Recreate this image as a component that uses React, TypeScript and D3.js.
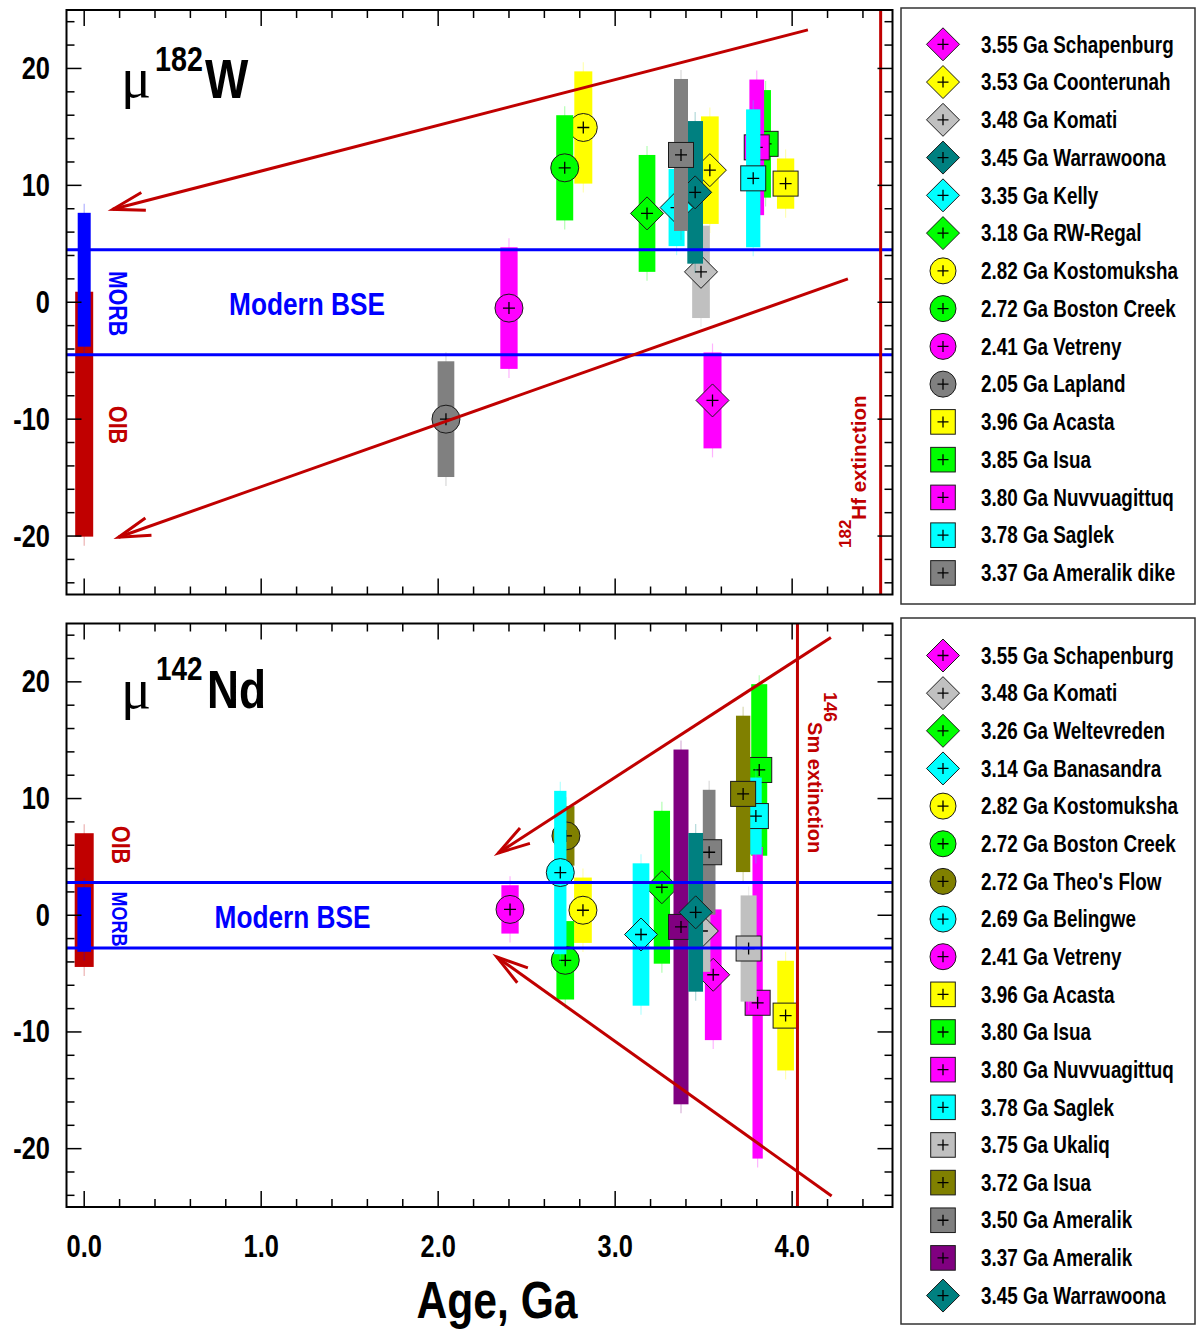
import React from "react";
import * as d3 from "d3";

// ---------- axes ----------
const AGE_DOMAIN = [-0.1, 4.567];
const MU_DOMAIN = [-25, 25];
const AGE_MAJOR = [0, 1, 2, 3, 4];
const AGE_LABELS = ["0.0", "1.0", "2.0", "3.0", "4.0"];
const MU_MAJOR = [-20, -10, 0, 10, 20];
const MU_LABELS = ["-20", "-10", "0", "10", "20"];

// ---------- mu182W panel ----------
const W_LABELS = [
  "3.55 Ga Schapenburg", "3.53 Ga Coonterunah", "3.48 Ga Komati", "3.45 Ga Warrawoona",
  "3.35 Ga Kelly", "3.18 Ga RW-Regal", "2.82 Ga Kostomuksha", "2.72 Ga Boston Creek",
  "2.41 Ga Vetreny", "2.05 Ga Lapland", "3.96 Ga Acasta", "3.85 Ga Isua",
  "3.80 Ga Nuvvuagittuq", "3.78 Ga Saglek", "3.37 Ga Ameralik dike",
];
const W_AGE = [3.55, 3.535, 3.485, 3.452, 3.347, 3.18, 2.82, 2.715, 2.40, 2.044, 3.963, 3.85, 3.80, 3.78, 3.372];
const W_MU = [-8.4, 11.3, 2.6, 9.4, 8.1, 7.6, 14.95, 11.5, -0.5, -10.0, 10.15, 13.55, 13.25, 10.6, 12.6];
const W_ERR = [4.1, 4.6, 3.95, 6.1, 3.3, 5.0, 4.8, 4.5, 5.2, 4.95, 2.15, 4.6, 5.8, 5.9, 6.5];
const W_SHAPE = ["diamond", "diamond", "diamond", "diamond", "diamond", "diamond", "circle", "circle", "circle", "circle", "square", "square", "square", "square", "square"];
const W_COLOR = ["#ff00ff", "#ffff00", "#c0c0c0", "#008080", "#00ffff", "#00ff00", "#ffff00", "#00ff00", "#ff00ff", "#808080", "#ffff00", "#00ff00", "#ff00ff", "#00ffff", "#808080"];
const W_BARW = [18, 17.7, 17.7, 15.7, 16, 16.7, 18, 17, 17.3, 16.7, 17.3, 10.7, 14.7, 14.3, 14];
const W_BSE = [-4.5, 4.5];
const W_MORB = [-3.8, 7.65];
const W_OIB = [-20.05, 0.9];
const W_ARROWS = [
  { from: [4.089, 23.3], to: [0.162, 7.95] },
  { from: [4.315, 2.0], to: [0.194, -20.1] },
];
const W_EXTINCTION = 4.5;

// ---------- mu142Nd panel ----------
const N_LABELS = [
  "3.55 Ga Schapenburg", "3.48 Ga Komati", "3.26 Ga Weltevreden", "3.14 Ga Banasandra",
  "2.82 Ga Kostomuksha", "2.72 Ga Boston Creek", "2.72 Ga Theo's Flow", "2.69 Ga Belingwe",
  "2.41 Ga Vetreny", "3.96 Ga Acasta", "3.80 Ga Isua", "3.80 Ga Nuvvuagittuq",
  "3.78 Ga Saglek", "3.75 Ga Ukaliq", "3.72 Ga Isua", "3.50 Ga Ameralik",
  "3.37 Ga Ameralik", "3.45 Ga Warrawoona",
];
const N_AGE = [3.554, 3.49, 3.264, 3.146, 2.818, 2.718, 2.722, 2.69, 2.406, 3.963, 3.814, 3.805, 3.795, 3.754, 3.723, 3.531, 3.372, 3.455];
const N_MU = [-5.1, -1.35, 2.4, -1.65, 0.43, -3.86, 6.8, 3.66, 0.5, -8.6, 12.45, -7.5, 8.5, -2.85, 10.4, 5.4, -1.0, 0.25];
const N_ERR = [5.6, 3.5, 6.55, 6.1, 2.8, 3.36, 2.55, 7.0, 2.07, 4.7, 7.35, 13.35, 3.3, 4.55, 6.7, 5.35, 15.2, 6.8];
const N_SHAPE = ["diamond", "diamond", "diamond", "diamond", "circle", "circle", "circle", "circle", "circle", "square", "square", "square", "square", "square", "square", "square", "square", "diamond"];
const N_COLOR = ["#ff00ff", "#c0c0c0", "#00ff00", "#00ffff", "#ffff00", "#00ff00", "#808000", "#00ffff", "#ff00ff", "#ffff00", "#00ff00", "#ff00ff", "#00ffff", "#c0c0c0", "#808000", "#808080", "#800080", "#008080"];
const N_BARW = [16.7, 17, 16.3, 16.7, 17.7, 17.7, 17, 12.3, 17.3, 16.7, 16, 10.3, 11.7, 16, 14.3, 12.7, 15, 14.7];
const N_BSE = [-2.8, 2.8];
const N_MORB = [-3.13, 2.4];
const N_OIB = [-4.43, 7.03];
const N_ARROWS = [
  { from: [4.219, 23.8], to: [2.34, 5.34] },
  { from: [4.223, -24.05], to: [2.331, -3.57] },
];
const N_EXTINCTION = 4.03;

// ---------- layout / style ----------
const X0 = 66.5, X1 = 892.5;
const TOP = { y0: 10, y1: 594.5 };
const BOT = { y0: 623.5, y1: 1207 };
const RED = "#c00000";
const BLUE = "#0000ff";
const FONT = "'Liberation Sans', Arial, Helvetica, sans-serif";
const NARROW = 0.82;
const PLOT_SIZE: Record<string, number> = { diamond: 16.5, circle: 14, square: 12.5 };
const LEG_SIZE: Record<string, number> = { diamond: 16.5, circle: 13, square: 12.3 };

const x = d3.scaleLinear().domain(AGE_DOMAIN).range([X0, X1]);

function NText(props: any) {
  const { x, y, size, anchor = "start", fill = "#000", rotate = 0, weight = "bold", children } = props;
  return (
    <text
      transform={`translate(${x},${y}) rotate(${rotate}) scale(${NARROW},1)`}
      fontSize={size}
      fontFamily={FONT}
      fontWeight={weight}
      textAnchor={anchor}
      fill={fill}
    >
      {children}
    </text>
  );
}

function Marker(props: any) {
  const { shape, cx, cy, fill, half, plus } = props;
  let el;
  if (shape === "diamond") {
    el = <path d={`M${cx},${cy - half}L${cx + half},${cy}L${cx},${cy + half}L${cx - half},${cy}Z`} fill={fill} stroke="#1a1a1a" strokeWidth={1} />;
  } else if (shape === "circle") {
    el = <circle cx={cx} cy={cy} r={half} fill={fill} stroke="#1a1a1a" strokeWidth={1} />;
  } else {
    el = <rect x={cx - half} y={cy - half} width={2 * half} height={2 * half} fill={fill} stroke="#1a1a1a" strokeWidth={1} />;
  }
  return (
    <g>
      {el}
      <path d={`M${cx - plus},${cy}H${cx + plus}M${cx},${cy - plus}V${cy + plus}`} stroke="#000" strokeWidth={1.3} />
    </g>
  );
}

function Arrow(props: any) {
  const { x1, y1, x2, y2 } = props;
  const a = Math.atan2(y1 - y2, x1 - x2);
  const L = 33, da = 0.28;
  const b1 = [x2 + L * Math.cos(a + da), y2 + L * Math.sin(a + da)];
  const b2 = [x2 + L * Math.cos(a - da), y2 + L * Math.sin(a - da)];
  return (
    <g stroke={RED} strokeWidth={3} fill="none" strokeLinecap="butt">
      <line x1={x1} y1={y1} x2={x2} y2={y2} />
      <path d={`M${b1[0]},${b1[1]}L${x2},${y2}L${b2[0]},${b2[1]}`} />
    </g>
  );
}

function RangeBar(props: any) {
  const { cx, lo, hi, w, color } = props;
  const ext = 9;
  return (
    <g>
      <line x1={cx} x2={cx} y1={hi - ext} y2={lo + ext} stroke={color} strokeOpacity={0.3} strokeWidth={1.2} />
      <rect x={cx - w / 2} y={hi} width={w} height={lo - hi} fill={color} />
    </g>
  );
}

function Axes(props: any) {
  const { y, box } = props;
  const minorX = d3.range(0, 4.5, 0.2).map((v) => +v.toFixed(2));
  const minorY = d3.range(-24, 25, 2);
  const ticks: any[] = [];
  minorX.forEach((v, i) => {
    const major = AGE_MAJOR.some((m) => Math.abs(m - v) < 1e-6);
    const len = major ? 16 : 8;
    const px = x(v);
    ticks.push(<line key={`xt${i}`} x1={px} x2={px} y1={box.y0} y2={box.y0 + len} />);
    ticks.push(<line key={`xb${i}`} x1={px} x2={px} y1={box.y1} y2={box.y1 - len} />);
  });
  minorY.forEach((v, i) => {
    const major = v % 10 === 0;
    const len = major ? 15 : 8;
    const py = y(v);
    ticks.push(<line key={`yl${i}`} x1={X0} x2={X0 + len} y1={py} y2={py} />);
    ticks.push(<line key={`yr${i}`} x1={X1} x2={X1 - len} y1={py} y2={py} />);
  });
  return (
    <g>
      <g stroke="#000" strokeWidth={1.5}>{ticks}</g>
      <rect x={X0} y={box.y0} width={X1 - X0} height={box.y1 - box.y0} fill="none" stroke="#000" strokeWidth={2} />
      {MU_MAJOR.map((v, i) => (
        <NText key={i} x={50} y={y(v) + 10.5} size={31} anchor="end">{MU_LABELS[i]}</NText>
      ))}
    </g>
  );
}

function Series(props: any) {
  const { y, ages, mus, errs, shapes, colors, widths } = props;
  return (
    <g>
      {ages.map((a: number, i: number) => (
        <g key={i}>
          <RangeBar cx={x(a)} hi={y(mus[i] + errs[i])} lo={y(mus[i] - errs[i])} w={widths[i]} color={colors[i]} />
          <Marker shape={shapes[i]} cx={x(a)} cy={y(mus[i])} fill={colors[i]} half={PLOT_SIZE[shapes[i]]} plus={6} />
        </g>
      ))}
    </g>
  );
}

function Legend(props: any) {
  const { box, labels, shapes, colors, start, step } = props;
  return (
    <g>
      <rect x={box.x} y={box.y} width={box.w} height={box.h} fill="#fff" stroke="#333" strokeWidth={1.5} />
      {labels.map((lab: string, i: number) => {
        const cy = start + i * step;
        return (
          <g key={i}>
            <Marker shape={shapes[i]} cx={943} cy={cy} fill={colors[i]} half={LEG_SIZE[shapes[i]]} plus={5.5} />
            <NText x={981} y={cy + 8.2} size={23}>{lab}</NText>
          </g>
        );
      })}
    </g>
  );
}

export default function App() {
  const yT = d3.scaleLinear().domain(MU_DOMAIN).range([TOP.y1, TOP.y0]);
  const yB = d3.scaleLinear().domain(MU_DOMAIN).range([BOT.y1, BOT.y0]);
  const x0 = x(0);

  return (
    <svg width={1196} height={1331} style={{ position: "absolute", left: 0, top: 0, background: "#fff" }} xmlns="http://www.w3.org/2000/svg">
      <rect x={0} y={0} width={1196} height={1331} fill="#fff" />

      {/* ===== top panel: mu182W ===== */}
      <g>
        <RangeBar cx={x0} hi={yT(W_OIB[1])} lo={yT(W_OIB[0])} w={18} color={RED} />
        <RangeBar cx={x0} hi={yT(W_MORB[1])} lo={yT(W_MORB[0])} w={13} color={BLUE} />
        <Series y={yT} ages={W_AGE} mus={W_MU} errs={W_ERR} shapes={W_SHAPE} colors={W_COLOR} widths={W_BARW} />
        {W_BSE.map((v, i) => (
          <line key={i} x1={X0} x2={X1} y1={yT(v)} y2={yT(v)} stroke={BLUE} strokeWidth={3} />
        ))}
        {W_ARROWS.map((a, i) => (
          <Arrow key={i} x1={x(a.from[0])} y1={yT(a.from[1])} x2={x(a.to[0])} y2={yT(a.to[1])} />
        ))}
        <line x1={x(W_EXTINCTION)} x2={x(W_EXTINCTION)} y1={TOP.y0} y2={TOP.y1} stroke={RED} strokeWidth={3} />
        <text transform={`translate(${x(W_EXTINCTION) - 14.5},548) rotate(-90)`} fontFamily={FONT} fontWeight="bold" fontSize={20.5} fill={RED}>
          <tspan fontSize={17} dy={-15}>182</tspan>
          <tspan dy={15}>Hf extinction</tspan>
        </text>
        <NText x={307} y={315} size={32} anchor="middle" fill={BLUE}>Modern BSE</NText>
        <NText x={108.5} y={303.5} size={26} anchor="middle" fill={BLUE} rotate={90}>MORB</NText>
        <NText x={109} y={425} size={26} anchor="middle" fill={RED} rotate={90}>OIB</NText>
        <text x={121} y={97} fontFamily="'Liberation Serif', 'DejaVu Serif', serif" fontSize={56} fill="#000">μ</text>
        <NText x={155} y={71} size={35}>182</NText>
        <NText x={205} y={98} size={56}>W</NText>
        <Axes y={yT} box={TOP} />
      </g>

      {/* ===== bottom panel: mu142Nd ===== */}
      <g>
        <RangeBar cx={x0} hi={yB(N_OIB[1])} lo={yB(N_OIB[0])} w={19} color={RED} />
        <RangeBar cx={x0} hi={yB(N_MORB[1])} lo={yB(N_MORB[0])} w={13.6} color={BLUE} />
        <Series y={yB} ages={N_AGE} mus={N_MU} errs={N_ERR} shapes={N_SHAPE} colors={N_COLOR} widths={N_BARW} />
        {N_BSE.map((v, i) => (
          <line key={i} x1={X0} x2={X1} y1={yB(v)} y2={yB(v)} stroke={BLUE} strokeWidth={3} />
        ))}
        {N_ARROWS.map((a, i) => (
          <Arrow key={i} x1={x(a.from[0])} y1={yB(a.from[1])} x2={x(a.to[0])} y2={yB(a.to[1])} />
        ))}
        <line x1={x(N_EXTINCTION)} x2={x(N_EXTINCTION)} y1={BOT.y0} y2={BOT.y1} stroke={RED} strokeWidth={3} />
        <text transform={`translate(${x(N_EXTINCTION) + 10.5},692) rotate(90)`} fontFamily={FONT} fontWeight="bold" fontSize={20} fill={RED}>
          <tspan fontSize={18} dy={-16}>146</tspan>
          <tspan dy={16}>Sm extinction</tspan>
        </text>
        <NText x={292.5} y={928} size={32} anchor="middle" fill={BLUE}>Modern BSE</NText>
        <NText x={111.5} y={845} size={26} anchor="middle" fill={RED} rotate={90}>OIB</NText>
        <NText x={112} y={919} size={22} anchor="middle" fill={BLUE} rotate={90}>MORB</NText>
        <text x={121} y={708} fontFamily="'Liberation Serif', 'DejaVu Serif', serif" fontSize={56} fill="#000">μ</text>
        <NText x={156} y={680} size={34}>142</NText>
        <NText x={207} y={708} size={54}>Nd</NText>
        <Axes y={yB} box={BOT} />
        {AGE_MAJOR.map((v, i) => (
          <NText key={i} x={x(v)} y={1257} size={31} anchor="middle">{AGE_LABELS[i]}</NText>
        ))}
        <NText x={497} y={1318} size={52} anchor="middle">Age, Ga</NText>
      </g>

      {/* ===== legends ===== */}
      <Legend box={{ x: 901, y: 8, w: 294, h: 596 }} labels={W_LABELS} shapes={W_SHAPE} colors={W_COLOR} start={44.3} step={37.76} />
      <Legend box={{ x: 901, y: 618, w: 294, h: 706 }} labels={N_LABELS} shapes={N_SHAPE} colors={N_COLOR} start={655.5} step={37.65} />
    </svg>
  );
}
